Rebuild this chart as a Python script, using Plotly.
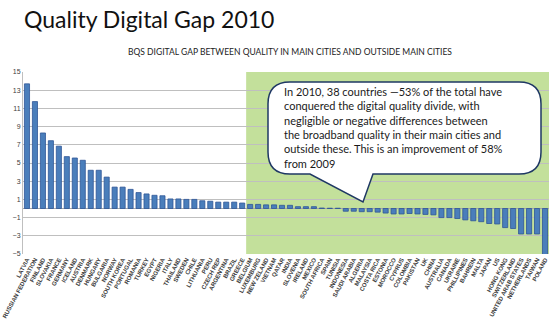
import plotly.graph_objects as go

countries = ["LATVIA", "RUSSIAN FEDERATION", "FINLAND", "SLOVAKIA", "FRANCE", "GERMANY", "ICELAND",
             "AUSTRIA", "DENMARK", "HUNGARY", "BULGARIA", "NORWAY", "SOUTH KOREA", "PORTUGAL",
             "ROMANIA", "TURKEY", "EGYPT", "NIGERIA", "ITALY", "THAILAND", "SWEDEN", "CHILE",
             "LITHUANIA", "PERU", "CZECH REP", "ARGENTINA", "BRAZIL", "GREECE", "BELGIUM",
             "LUXEMBURG", "NEW ZELAND", "VIETNAM", "QATAR", "INDIA", "SLOVENIA", "IRELAND",
             "MEXICO", "SOUTH AFRICA", "SPAIN", "TUNISIA", "INDONESIA", "SAUDI ARABIA", "ALGERIA",
             "MALAYSIA", "COSTA RICA", "ESTONIA", "MOROCCO", "CYPRUS", "COLOMBIA", "PAKISTAN",
             "UK", "CHINA", "AUSTRALIA", "CANADA", "UKRAINE", "PHILLIPINES", "BAHREIN", "MALTA",
             "JAPAN", "US", "HONG KONG", "SWITZERLAND", "UNITED ARAB STATES", "NETHERLANDS",
             "TAIWAN", "POLAND"]

gap = [13.7, 11.75, 8.3, 7.45, 6.85, 5.7, 5.55, 5.3, 4.2, 4.2,
       3.45, 2.35, 2.35, 2.1, 1.75, 1.6, 1.45, 1.4, 1.05, 1.05,
       1.0, 1.0, 0.85, 0.8, 0.7, 0.7, 0.7, 0.6,
       0.45, 0.45, 0.4, 0.4, 0.35, 0.35, 0.2, 0.2, 0.2, 0.05, 0.03, 0.03,
       -0.3, -0.3, -0.35, -0.35, -0.4, -0.5, -0.6, -0.6,
       -0.55, -0.6, -0.65, -0.7, -1.0, -1.0, -1.1, -1.25, -1.35, -1.45,
       -1.65, -1.7, -2.1, -2.2, -2.8, -2.8, -2.8, -5.1]

y_ticks = [-5, -3, -1, 1, 3, 5, 7, 9, 11, 13, 15]
n_closed = 38  # countries that closed the gap (green zone)

W, H = 550, 321
L, R, T, B = 23, 1, 72, 67
pw, ph = W - L - R, H - T - B


def px(x):
    return (x - L) / pw


def py(y):
    return (H - B - y) / ph


fig = go.Figure()
fig.add_trace(go.Bar(
    x=list(range(len(countries))), y=gap,
    marker=dict(color="#4A7EBB", line=dict(color="#2F5597", width=0.8)),
    width=0.64,
))

# green zone
start = len(countries) - n_closed - 0.5
fig.add_shape(type="rect", xref="x", yref="paper", x0=start, x1=len(countries) - 0.5,
              y0=0, y1=1, fillcolor="#C3E09B", line=dict(width=0), layer="below")

# callout bubble (pixel geometry converted to paper coords)
l, t, r, b, rad = 268, 82, 541, 174, 22
tail = [(310, b), (363, 202), (373, b)]
path = (f"M {px(l + rad)},{py(t)} L {px(r - rad)},{py(t)} "
        f"Q {px(r)},{py(t)} {px(r)},{py(t + rad)} L {px(r)},{py(b - rad)} "
        f"Q {px(r)},{py(b)} {px(r - rad)},{py(b)} "
        f"L {px(tail[2][0])},{py(tail[2][1])} L {px(tail[1][0])},{py(tail[1][1])} "
        f"L {px(tail[0][0])},{py(tail[0][1])} L {px(l + rad)},{py(b)} "
        f"Q {px(l)},{py(b)} {px(l)},{py(b - rad)} L {px(l)},{py(t + rad)} "
        f"Q {px(l)},{py(t)} {px(l + rad)},{py(t)} Z")
fig.add_shape(type="path", xref="paper", yref="paper", path=path,
              fillcolor="white", line=dict(color="#1F3864", width=1.5), layer="above")

callout = ("In 2010, 38 countries —53% of the total have<br>"
           "conquered the digital quality divide, with<br>"
           "negligible or negative differences between<br>"
           "the broadband quality in their main cities and<br>"
           "outside these. This is an improvement of 58%<br>"
           "from 2009")
fig.add_annotation(xref="paper", yref="paper", x=px(282), y=py(83), xanchor="left", yanchor="top",
                   text=callout, showarrow=False, align="left",
                   font=dict(family="Lato", size=11, color="#1a1a1a"))

fig.add_annotation(xref="paper", yref="paper", x=px(22), y=py(3), xanchor="left", yanchor="top",
                   text="Quality Digital Gap 2010", showarrow=False,
                   font=dict(family="Lato", size=23, color="#111111"))
fig.add_annotation(xref="paper", yref="paper", x=px(290), y=py(52), xanchor="center", yanchor="middle",
                   text="BQS DIGITAL GAP BETWEEN QUALITY IN MAIN CITIES AND OUTSIDE MAIN CITIES",
                   showarrow=False, font=dict(family="Lato", size=8.5, color="#222222"))

fig.update_layout(
    width=W, height=H, margin=dict(l=L, r=R, t=T, b=B),
    paper_bgcolor="white", plot_bgcolor="white", showlegend=False,
    xaxis=dict(tickmode="array", tickvals=list(range(len(countries))),
               ticktext=[f"<b>{c}</b>" for c in countries],
               tickangle=-62, range=[-0.5, len(countries) - 0.5],
               tickfont=dict(family="Liberation Sans", size=6, color="#404040"),
               ticklabeloverflow="allow",
               showgrid=False, showline=False, ticks=""),
    yaxis=dict(range=[-5, 15], tickvals=y_ticks, showgrid=True, gridcolor="#BFBFBF", gridwidth=1,
               tickfont=dict(family="Liberation Sans", size=7, color="#404040"),
               zeroline=True, zerolinecolor="#A6A6A6", zerolinewidth=1,
               showline=True, linecolor="#BFBFBF", ticks=""),
    bargap=0.3,
)

fig.write_html("out.html")
